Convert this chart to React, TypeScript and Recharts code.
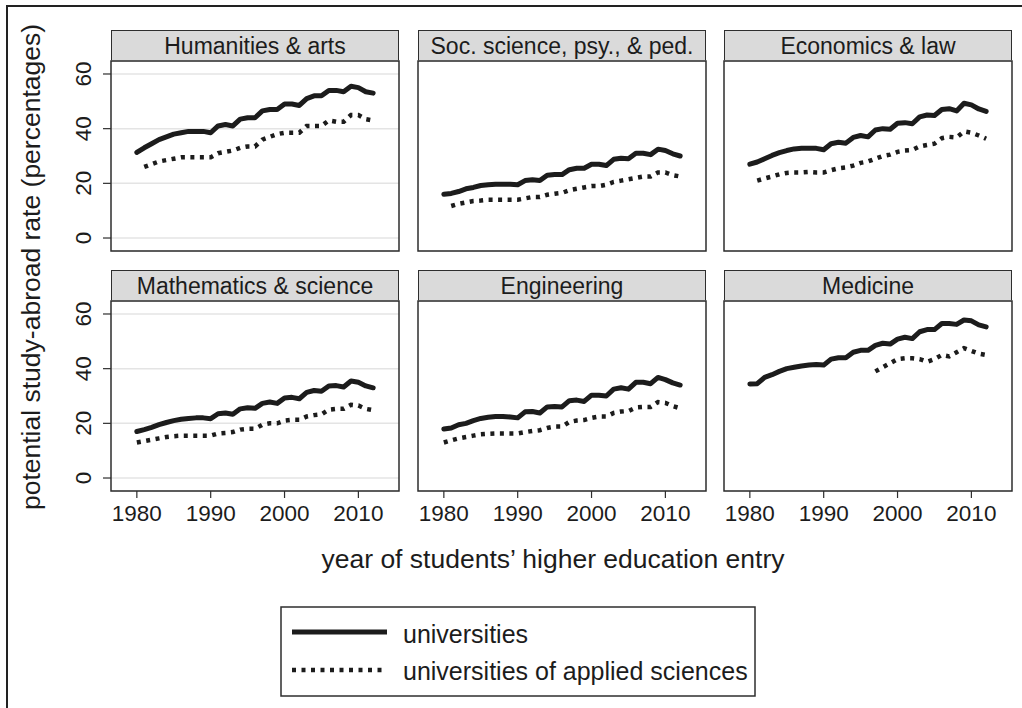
import { LineChart, Line, XAxis, YAxis, CartesianGrid, ReferenceArea } from 'recharts';

const years = [1980, 1981, 1982, 1983, 1984, 1985, 1986, 1987, 1988, 1989, 1990, 1991, 1992, 1993, 1994, 1995, 1996, 1997, 1998, 1999, 2000, 2001, 2002, 2003, 2004, 2005, 2006, 2007, 2008, 2009, 2010, 2011, 2012];
const xTicks = [1980, 1990, 2000, 2010];
const yTicks = [0, 20, 40, 60];

const humUni = [31.3, 33, 34.5, 36, 37, 38, 38.5, 39, 39, 39, 38.5, 41, 41.5, 41, 43.5, 44, 44, 46.5, 47, 47, 49, 49, 48.5, 51, 52, 52, 54, 54, 53.5, 55.5, 55, 53.5, 53];
const humUas = [null, 26, 27, 28, 28.5, 29, 29.5, 29.5, 29.5, 29.5, 29.5, 31, 31.5, 32, 33, 33.5, 33.5, 36, 37, 38, 38.5, 38.5, 38.5, 41, 41, 41, 43, 42.5, 42.5, 45, 45, 43.5, 43];
const socUni = [16, 16.3, 17, 18, 18.5, 19.2, 19.5, 19.7, 19.7, 19.7, 19.5, 21, 21.3, 21, 23, 23.2, 23.2, 25, 25.5, 25.5, 27, 27, 26.5, 28.8, 29.2, 29, 31, 31, 30.5, 32.5, 32, 30.8, 30];
const socUas = [null, 11.7, 12.5, 13, 13.5, 13.7, 14, 14, 14, 14, 14, 14.5, 15, 15, 15.8, 16.2, 16.5, 17.5, 18, 18.5, 19, 19, 19.5, 20.5, 21, 21.5, 22, 22.5, 22.5, 24, 24, 23, 22.5];
const ecoUni = [27, 27.8, 29, 30.2, 31.2, 32, 32.6, 32.8, 32.8, 32.8, 32.3, 34.5, 35, 34.7, 36.8, 37.5, 37, 39.5, 40, 39.8, 42, 42.2, 41.8, 44.3, 45, 44.8, 47, 47.3, 46.5, 49.3, 48.7, 47.2, 46.3];
const ecoUas = [null, 21, 21.8, 22.5, 23.3, 23.8, 24, 24, 24.2, 24, 24, 24.8, 25.5, 25.8, 26.5, 27.5, 28, 29, 30, 30.5, 31.5, 32, 32.2, 33.5, 34, 34.5, 36.5, 37, 36.8, 39, 38.5, 37.5, 36.3];
const mathUni = [17, 17.7, 18.5, 19.5, 20.3, 21, 21.5, 21.8, 22, 22, 21.7, 23.5, 23.8, 23.3, 25.3, 25.7, 25.5, 27.3, 27.8, 27.3, 29.3, 29.5, 29, 31.3, 32, 31.7, 33.7, 33.8, 33.3, 35.5, 35, 33.7, 33];
const mathUas = [13, 13.5, 14, 14.5, 15, 15.3, 15.5, 15.5, 15.5, 15.5, 15.5, 16.3, 16.5, 16.8, 17.7, 18, 18, 19.5, 20, 20, 21, 21.3, 21.3, 22.5, 23, 23.3, 25, 25.3, 25.3, 26.8, 26.5, 25.3, 24.8];
const engUni = [17.9, 18.3, 19.5, 20, 21, 21.8, 22.2, 22.5, 22.5, 22.3, 22, 24.2, 24.3, 23.8, 26, 26.2, 26, 28.3, 28.5, 28, 30.3, 30.3, 30, 32.5, 33, 32.5, 35, 35, 34.5, 36.8, 36, 34.8, 34];
const engUas = [13, 13.8, 14.5, 15, 15.5, 16, 16.2, 16.3, 16.3, 16.3, 16.3, 16.8, 17.2, 17.5, 18.3, 18.8, 18.8, 20.5, 21, 21.2, 22, 22.5, 22.5, 23.8, 24.3, 24.5, 25.8, 26, 26, 27.8, 27.5, 26.3, 25.5];
const medUni = [34.4, 34.5, 36.8, 37.8, 39, 40, 40.5, 41, 41.3, 41.5, 41.3, 43.5, 44, 44, 46, 46.7, 46.7, 48.5, 49.3, 49, 50.8, 51.5, 51, 53.5, 54.3, 54.3, 56.5, 56.5, 56.2, 57.8, 57.5, 56, 55.3];
const medUas = [null, null, null, null, null, null, null, null, null, null, null, null, null, null, null, null, null, 39, 40.5, 42, 43.5, 43.8, 43.8, 43.5, 42.5, 43.5, 45, 44.5, 46, 47.5, 46.5, 45.5, 45];

const panels = [
  { title: 'Humanities & arts', uni: humUni, uas: humUas },
  { title: 'Soc. science, psy., & ped.', uni: socUni, uas: socUas },
  { title: 'Economics & law', uni: ecoUni, uas: ecoUas },
  { title: 'Mathematics & science', uni: mathUni, uas: mathUas },
  { title: 'Engineering', uni: engUni, uas: engUas },
  { title: 'Medicine', uni: medUni, uas: medUas },
];

const FONT = '"Liberation Sans", Arial, Helvetica, sans-serif';
const INK = '#1c1c1c';
const EDGE = '#2e2e2e';
const X_DOM: [number, number] = [1976.5, 2015.5];
const Y_DOM: [number, number] = [-4.75, 64.75];

const colLeft = [111, 418, 724];
const rowTop = [61, 301];
const PW = 288;
const PH = 190;
const HEAD = 31;
const AXW = 40;

// rotated y tick labels, reading bottom to top like the original
function YTick(p: any) {
  return (
    <g transform={`translate(${p.x - 10},${p.y}) rotate(-90)`}>
      <text x={0} y={0} textAnchor="middle" fontSize={22.5} fontFamily={FONT} fill={INK}>
        {p.payload.value}
      </text>
    </g>
  );
}

function XTick(p: any) {
  return (
    <text x={p.x} y={p.y + 21} textAnchor="middle" fontSize={22.5} fontFamily={FONT} fill={INK}>
      {p.payload.value}
    </text>
  );
}

function Panel({ title, uni, uas, col, row }: any) {
  const rows = years.map((year, i) => ({ year, uni: uni[i], uas: uas[i] }));
  const left = colLeft[col];
  const top = rowTop[row];
  const showY = col === 0;
  const showX = row === 1;
  return (
    <>
      <div
        style={{
          position: 'absolute', left, top: top - HEAD, width: PW, height: HEAD, boxSizing: 'border-box',
          background: '#dadada', border: `1.5px solid ${EDGE}`, borderBottom: 'none',
          textAlign: 'center', lineHeight: `${HEAD}px`, fontSize: 23, fontFamily: FONT, color: INK,
        }}
      >
        {title}
      </div>
      <div style={{ position: 'absolute', left: left - AXW, top: top - 2 }}>
        <LineChart width={AXW + PW + 2} height={2 + PH + AXW} data={rows} margin={{ top: 2, right: 2, bottom: 0, left: 0 }}>
          <CartesianGrid vertical={false} stroke="#e4e4e4" strokeWidth={1.5} />
          <XAxis
            type="number" dataKey="year" domain={X_DOM} ticks={xTicks} allowDataOverflow height={AXW}
            axisLine={false} tickSize={7} tickLine={showX ? { stroke: EDGE, strokeWidth: 1.2 } : false}
            tick={showX ? <XTick /> : false}
          />
          <YAxis
            type="number" domain={Y_DOM} ticks={yTicks} allowDataOverflow width={AXW}
            axisLine={false} tickSize={8} tickLine={showY ? { stroke: EDGE, strokeWidth: 1.2 } : false}
            tick={showY ? <YTick /> : false}
          />
          <ReferenceArea x1={X_DOM[0]} x2={X_DOM[1]} y1={Y_DOM[0]} y2={Y_DOM[1]} fill="none" fillOpacity={0} stroke={EDGE} strokeWidth={1.5} ifOverflow="visible" />
          <Line type="linear" dataKey="uas" stroke={INK} strokeWidth={4.5} strokeDasharray="4 5.5" dot={false} isAnimationActive={false} />
          <Line type="linear" dataKey="uni" stroke={INK} strokeWidth={5} strokeLinejoin="round" strokeLinecap="round" dot={false} isAnimationActive={false} />
        </LineChart>
      </div>
    </>
  );
}

export default function App() {
  return (
    <div style={{ position: 'absolute', left: 0, top: 0, width: 1022, height: 708, overflow: 'hidden', background: '#fff' }}>
      <div style={{ position: 'absolute', left: 6, top: 5, width: 1100, height: 800, borderTop: '2px solid #222', borderLeft: '2px solid #222' }} />
      {panels.map((p, i) => (
        <Panel key={p.title} {...p} col={i % 3} row={Math.floor(i / 3)} />
      ))}
      <svg width={1022} height={708} style={{ position: 'absolute', left: 0, top: 0, pointerEvents: 'none' }}>
        <text x={40} y={267} transform="rotate(-90 40 267)" textAnchor="middle" fontSize={26.5} fontFamily={FONT} fill={INK}>
          potential study-abroad rate (percentages)
        </text>
        <text x={553} y={568} textAnchor="middle" fontSize={26.5} fontFamily={FONT} fill={INK}>
          year of students’ higher education entry
        </text>
        <rect x={281} y={607} width={474} height={89} fill="#fff" stroke={EDGE} strokeWidth={1.5} />
        <line x1={292} y1={632} x2={387} y2={632} stroke={INK} strokeWidth={5} />
        <line x1={292} y1={670} x2={387} y2={670} stroke={INK} strokeWidth={4.5} strokeDasharray="4 5.5" />
        <text x={403} y={643} fontSize={25} fontFamily={FONT} fill={INK}>universities</text>
        <text x={403} y={680} fontSize={25} fontFamily={FONT} fill={INK}>universities of applied sciences</text>
      </svg>
    </div>
  );
}
